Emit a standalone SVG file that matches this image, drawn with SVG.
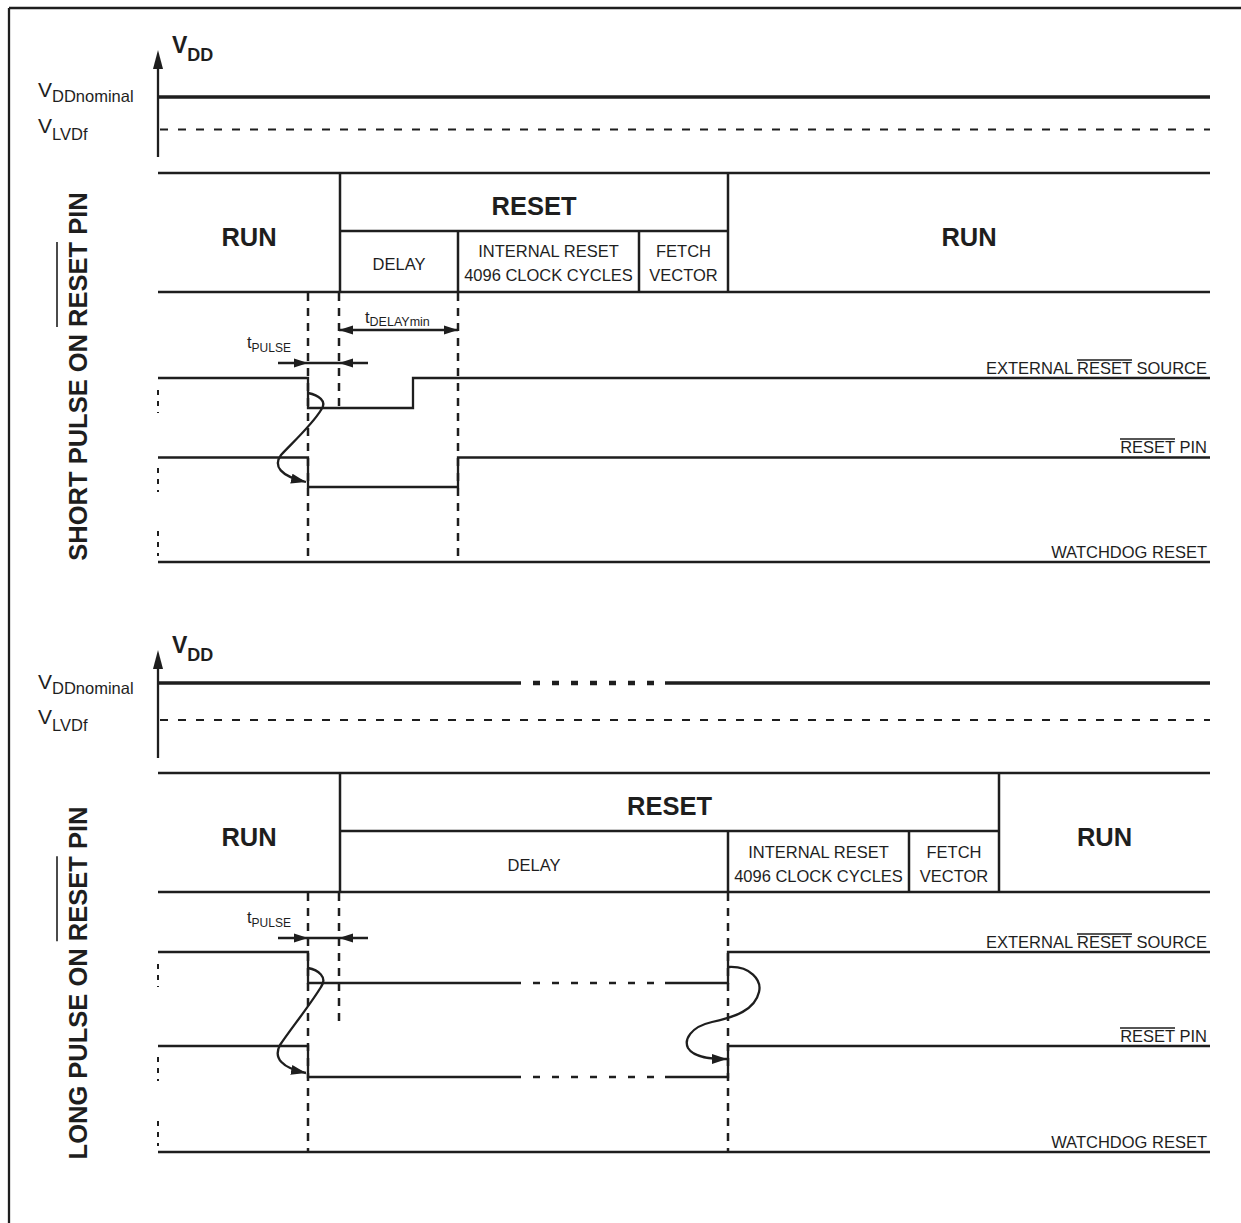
<svg xmlns="http://www.w3.org/2000/svg" width="1241" height="1223" viewBox="0 0 1241 1223">
<style>
  .ln{stroke:#1e1e1e;stroke-width:2.3;fill:none}
  .thick{stroke:#1e1e1e;stroke-width:3.3;fill:none}
  .bar{stroke:#1e1e1e;stroke-width:2.5;fill:none}
  .vd{stroke:#1e1e1e;stroke-width:2.5;fill:none;stroke-dasharray:8,7}
  .stub{stroke:#1e1e1e;stroke-width:2;fill:none;stroke-dasharray:5,6}
  .lvd{stroke:#1e1e1e;stroke-width:2;fill:none;stroke-dasharray:8,10}
  .dots{stroke:#1e1e1e;stroke-width:4.5;fill:none;stroke-dasharray:7,12}
  .sdash{stroke:#1e1e1e;stroke-width:2.3;fill:none;stroke-dasharray:7,12}
  .ov{stroke:#1e1e1e;stroke-width:1.6}
  text{font-family:"Liberation Sans",Arial,sans-serif;fill:#1e1e1e}
  .big{font-size:25.5px;font-weight:bold}
  .sm{font-size:16.5px}
  .mid{text-anchor:middle}
  .end{text-anchor:end}
  .head{fill:#1e1e1e;stroke:none}
</style>
<defs>
  <marker id="ah" markerUnits="userSpaceOnUse" markerWidth="16" markerHeight="12" refX="15" refY="5" orient="auto">
    <path d="M0,0 L15,5 L0,10 z" fill="#1e1e1e"/>
  </marker>
</defs>

<g id="frame">
  <line class="ln" x1="9" y1="8" x2="1241" y2="8" stroke-width="2"/>
  <line class="ln" x1="9" y1="8" x2="9" y2="1223" stroke-width="2"/>
</g>

<!-- ================= TOP PANEL ================= -->
<g id="top-label">
  <g transform="translate(87,376.5) rotate(-90)">
    <text class="big mid" x="0" y="0">SHORT PULSE ON RESET PIN</text>
    <line class="ov" x1="49.6" y1="-30" x2="134.6" y2="-30" stroke-width="2"/>
  </g>
</g>

<g id="top-vdd">
  <line class="ln" x1="158" y1="157" x2="158" y2="64"/>
  <polygon class="head" points="158,50 153,69 163,69"/>
  <text x="172" y="53" style="font-size:23px;font-weight:bold">V<tspan style="font-size:18px" dy="8">DD</tspan></text>
  <text x="38" y="97" style="font-size:21px">V<tspan class="sm" dy="5">DDnominal</tspan></text>
  <text x="38" y="133" style="font-size:21px">V<tspan class="sm" dy="7">LVDf</tspan></text>
  <line class="thick" x1="158" y1="97" x2="1210" y2="97"/>
  <line class="lvd" x1="160" y1="129.5" x2="1210" y2="129.5"/>
</g>

<g id="top-states">
  <line class="bar" x1="158" y1="173" x2="1210" y2="173"/>
  <line class="bar" x1="158" y1="292" x2="1210" y2="292"/>
  <line class="bar" x1="340" y1="173" x2="340" y2="292"/>
  <line class="bar" x1="728" y1="173" x2="728" y2="292"/>
  <line class="bar" x1="340" y1="231" x2="728" y2="231"/>
  <line class="bar" x1="458" y1="231" x2="458" y2="292"/>
  <line class="bar" x1="639" y1="231" x2="639" y2="292"/>
  <text class="big mid" x="249" y="246">RUN</text>
  <text class="big mid" x="534" y="215">RESET</text>
  <text class="big mid" x="969" y="246">RUN</text>
  <text class="sm mid" x="399" y="270">DELAY</text>
  <text class="sm mid" x="548.5" y="257">INTERNAL RESET</text>
  <text class="sm mid" x="548.5" y="281">4096 CLOCK CYCLES</text>
  <text class="sm mid" x="683.5" y="257">FETCH</text>
  <text class="sm mid" x="683.5" y="281">VECTOR</text>
</g>

<g id="top-signals">
  <polyline class="ln" points="158,378 308,378 308,408 413,408 413,378 1210,378"/>
  <polyline class="ln" points="158,457.5 308,457.5 308,487 458,487 458,457.5 1210,457.5"/>
  <line class="ln" x1="158" y1="562" x2="1210" y2="562"/>
  <line class="stub" x1="158" y1="390" x2="158" y2="413"/>
  <line class="stub" x1="158" y1="468" x2="158" y2="492"/>
  <line class="stub" x1="158" y1="531" x2="158" y2="556"/>
  <text class="sm end" x="1207" y="374">EXTERNAL RESET SOURCE</text>
  <line class="ov" x1="1077" y1="360" x2="1132" y2="360"/>
  <text class="sm end" x="1207" y="453">RESET PIN</text>
  <line class="ov" x1="1120" y1="439" x2="1175" y2="439"/>
  <text class="sm end" x="1207" y="558">WATCHDOG RESET</text>
</g>

<g id="top-timing">
  <line class="vd" x1="308" y1="293" x2="308" y2="562"/>
  <line class="vd" x1="339" y1="293" x2="339" y2="408"/>
  <line class="vd" x1="458" y1="293" x2="458" y2="562"/>
  <line class="ln" x1="339" y1="330" x2="458" y2="330" stroke-width="2"/>
  <polygon class="head" points="339,330 353,325.5 353,334.5"/>
  <polygon class="head" points="458,330 444,325.5 444,334.5"/>
  <text x="365" y="323" class="sm">t<tspan style="font-size:12.5px" dy="3">DELAYmin</tspan></text>
  <line class="ln" x1="278" y1="363" x2="368" y2="363" stroke-width="2"/>
  <polygon class="head" points="308,363 294,358.5 294,367.5"/>
  <polygon class="head" points="339,363 353,358.5 353,367.5"/>
  <text x="247" y="348" class="sm">t<tspan style="font-size:12px" dy="4">PULSE</tspan></text>
  <path class="ln" d="M308,393 C318,395 328,401 321,410 C312,425 290,445 281,455 C273,466 280,476 306,482" marker-end="url(#ah)"/>
</g>

<!-- ================= BOTTOM PANEL ================= -->
<g id="bottom-label">
  <g transform="translate(87,983) rotate(-90)">
    <text class="big mid" x="0" y="0">LONG PULSE ON RESET PIN</text>
    <line class="ov" x1="41.8" y1="-30" x2="126.8" y2="-30" stroke-width="2"/>
  </g>
</g>

<g id="bottom-vdd">
  <line class="ln" x1="158" y1="758" x2="158" y2="664"/>
  <polygon class="head" points="158,650 153,669 163,669"/>
  <text x="172" y="653" style="font-size:23px;font-weight:bold">V<tspan style="font-size:18px" dy="8">DD</tspan></text>
  <text x="38" y="689" style="font-size:21px">V<tspan class="sm" dy="5">DDnominal</tspan></text>
  <text x="38" y="724" style="font-size:21px">V<tspan class="sm" dy="7">LVDf</tspan></text>
  <line class="thick" x1="158" y1="683" x2="521" y2="683"/>
  <line class="dots" x1="533" y1="683" x2="655" y2="683"/>
  <line class="thick" x1="665" y1="683" x2="1210" y2="683"/>
  <line class="lvd" x1="160" y1="720" x2="1210" y2="720"/>
</g>

<g id="bottom-states">
  <line class="bar" x1="158" y1="773" x2="1210" y2="773"/>
  <line class="bar" x1="158" y1="892" x2="1210" y2="892"/>
  <line class="bar" x1="340" y1="773" x2="340" y2="892"/>
  <line class="bar" x1="999" y1="773" x2="999" y2="892"/>
  <line class="bar" x1="340" y1="831" x2="999" y2="831"/>
  <line class="bar" x1="728" y1="831" x2="728" y2="892"/>
  <line class="bar" x1="909" y1="831" x2="909" y2="892"/>
  <text class="big mid" x="249" y="846">RUN</text>
  <text class="big mid" x="669.5" y="815">RESET</text>
  <text class="big mid" x="1104.5" y="846">RUN</text>
  <text class="sm mid" x="534" y="871">DELAY</text>
  <text class="sm mid" x="818.5" y="858">INTERNAL RESET</text>
  <text class="sm mid" x="818.5" y="882">4096 CLOCK CYCLES</text>
  <text class="sm mid" x="954" y="858">FETCH</text>
  <text class="sm mid" x="954" y="882">VECTOR</text>
</g>

<g id="bottom-signals">
  <polyline class="ln" points="158,952 308,952 308,983 521,983"/>
  <line class="sdash" x1="533" y1="983" x2="655" y2="983"/>
  <polyline class="ln" points="665,983 728,983 728,952 1210,952"/>
  <polyline class="ln" points="158,1046 308,1046 308,1077 521,1077"/>
  <line class="sdash" x1="533" y1="1077" x2="655" y2="1077"/>
  <polyline class="ln" points="665,1077 728,1077 728,1046 1210,1046"/>
  <line class="ln" x1="158" y1="1152" x2="1210" y2="1152"/>
  <line class="stub" x1="158" y1="964" x2="158" y2="987"/>
  <line class="stub" x1="158" y1="1057" x2="158" y2="1081"/>
  <line class="stub" x1="158" y1="1121" x2="158" y2="1146"/>
  <text class="sm end" x="1207" y="948">EXTERNAL RESET SOURCE</text>
  <line class="ov" x1="1077" y1="934" x2="1132" y2="934"/>
  <text class="sm end" x="1207" y="1042">RESET PIN</text>
  <line class="ov" x1="1120" y1="1028" x2="1175" y2="1028"/>
  <text class="sm end" x="1207" y="1148">WATCHDOG RESET</text>
</g>

<g id="bottom-timing">
  <line class="vd" x1="308" y1="893" x2="308" y2="1152"/>
  <line class="vd" x1="339" y1="893" x2="339" y2="1028"/>
  <line class="vd" x1="728" y1="893" x2="728" y2="1152"/>
  <line class="ln" x1="278" y1="938" x2="368" y2="938" stroke-width="2"/>
  <polygon class="head" points="308,938 294,933.5 294,942.5"/>
  <polygon class="head" points="339,938 353,933.5 353,942.5"/>
  <text x="247" y="923" class="sm">t<tspan style="font-size:12px" dy="4">PULSE</tspan></text>
</g>

<g id="connectors">
  <path class="ln" d="M308,968 C318,970 328,977 321,987 C310,1005 290,1030 280,1045 C273,1058 282,1068 306,1073" marker-end="url(#ah)"/>
  <path class="ln" d="M729,967 C750,966 762,980 759,992 C755,1010 735,1017 712,1022 C690,1027 684,1040 688,1048 C694,1058 712,1059 727,1059" marker-end="url(#ah)"/>
</g>
</svg>
